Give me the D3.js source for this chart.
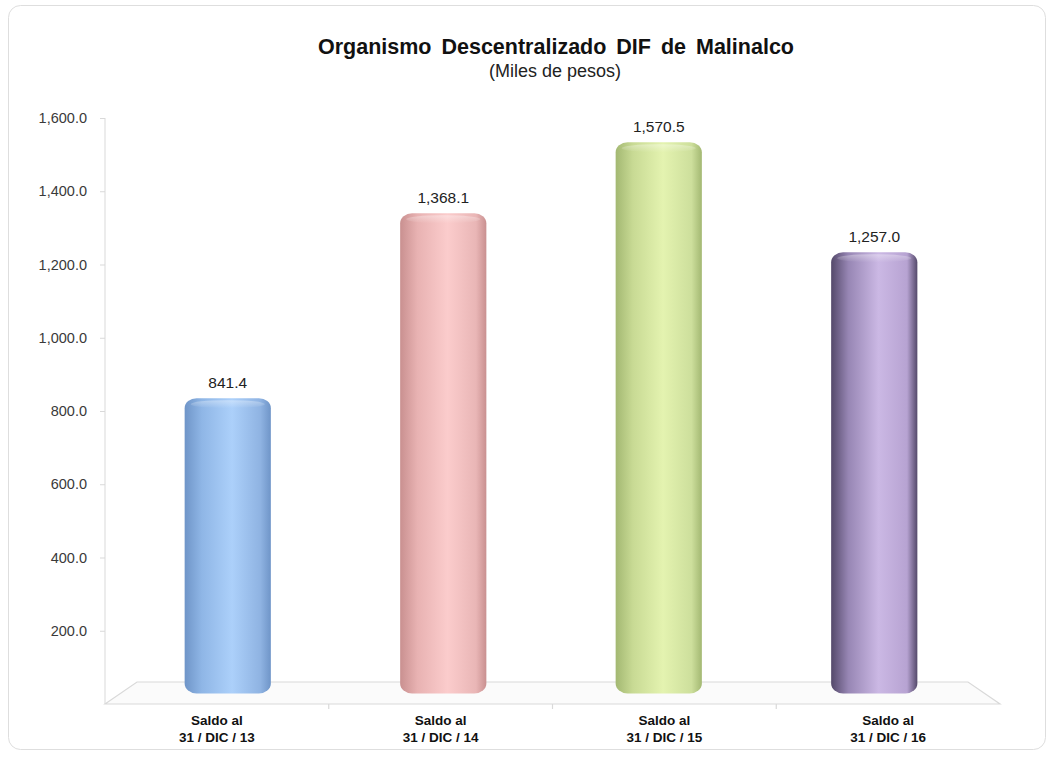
<!DOCTYPE html>
<html><head><meta charset="utf-8">
<script src="https://cdn.jsdelivr.net/npm/d3@7"></script>
<style>body{margin:0;background:#fff}svg{display:block}text{font-family:"Liberation Sans",Arial,sans-serif}</style>
</head><body><svg id="c" width="1052" height="757"></svg>
<script>
const categories = ["Saldo al|31 / DIC / 13","Saldo al|31 / DIC / 14","Saldo al|31 / DIC / 15","Saldo al|31 / DIC / 16"];
const values = [841.4, 1368.1, 1570.5, 1257.0];
const valueLabels = ["841.4","1,368.1","1,570.5","1,257.0"];
const tickValues = [200,400,600,800,1000,1200,1400,1600];
const barColors = [
  ["#6f95c8","#8fb6e6","#acd0fa","#8fb3e2"],
  ["#c99090","#e8b2b2","#fbcccc","#e9b6b6"],
  ["#a3b872","#c8da94","#e4f3b0","#cddf9c"],
  ["#54496a","#9786b4","#cbb8e4","#b7a3d2"]
];

const svg = d3.select("#c");
const defs = svg.append("defs");

// panel
svg.append("rect").attr("x",8.5).attr("y",5.5).attr("width",1037).attr("height",744)
  .attr("rx",12).attr("fill","#fff").attr("stroke","#dedede");

// titles
svg.append("text").attr("x",556).attr("y",54).attr("text-anchor","middle")
  .attr("font-size",21.5).attr("font-weight","bold").attr("fill","#111").attr("word-spacing",4)
  .text("Organismo Descentralizado DIF de Malinalco");
svg.append("text").attr("x",555).attr("y",77).attr("text-anchor","middle")
  .attr("font-size",18).attr("fill","#222").text("(Miles de pesos)");

// scales
const yAxisScale = d3.scaleLinear().domain([0,1600]).range([704,118]);
const yBar = d3.scaleLinear().domain([0,1600]).range([693.5,131.9]);
const xBar = d3.scaleBand().domain(categories).range([120,982]).paddingInner(0.6).paddingOuter(0.3);
const xFront = d3.scaleBand().domain(categories).range([105,1000]);

// floor
const gFloor = svg.append("g").attr("stroke","#d9d9d9").attr("fill","none").attr("stroke-width",1.2);
gFloor.append("path").attr("d","M105,704 L137,682 L968,682 L1000,704 Z").attr("fill","#fbfbfb");
xFront.domain().slice(1).forEach(c=>{
  const x = xFront(c);
  gFloor.append("line").attr("x1",x).attr("x2",x).attr("y1",704).attr("y2",709);
});

// y axis
const yAxis = d3.axisLeft(yAxisScale).tickValues(tickValues).tickSize(5).tickPadding(13)
  .tickFormat(d=>d3.format(",.1f")(d));
const ga = svg.append("g").attr("transform","translate(105,0)").call(yAxis);
ga.select(".domain").attr("stroke","#d9d9d9").attr("d","M0,118V704");
ga.selectAll(".tick line").attr("stroke","#d9d9d9");
ga.selectAll(".tick text").attr("font-size",14.5).attr("fill","#3a3a3a")
  .attr("font-family","'Liberation Sans',Arial,sans-serif");

// gradients
categories.forEach((c,i)=>{
  const g = defs.append("linearGradient").attr("id","g"+i).attr("x1","0").attr("x2","1").attr("y1","0").attr("y2","0");
  const cs = barColors[i];
  [[0,cs[0]],[0.2,cs[1]],[0.55,cs[2]],[0.88,cs[3]],[1,cs[0]]].forEach(s=>
    g.append("stop").attr("offset",s[0]).attr("stop-color",s[1]));
  const v = defs.append("linearGradient").attr("id","v"+i).attr("x1","0").attr("x2","0").attr("y1","0").attr("y2","1");
  v.append("stop").attr("offset",0).attr("stop-color","#fff").attr("stop-opacity",0.35);
  v.append("stop").attr("offset",1).attr("stop-color","#fff").attr("stop-opacity",0);
});

// bars
const bw = xBar.bandwidth();
const bars = svg.append("g");
categories.forEach((c,i)=>{
  const x = xBar(c), top = yBar(values[i]), bot = yBar(0);
  bars.append("rect").attr("x",x).attr("y",top).attr("width",bw).attr("height",bot-top)
    .attr("rx",12).attr("ry",10).attr("fill",`url(#g${i})`);
  bars.append("ellipse").attr("cx",x+bw/2).attr("cy",top+6).attr("rx",bw/2-6).attr("ry",4)
    .attr("fill",`url(#v${i})`);
  bars.append("text").attr("x",x+bw/2).attr("y",top-10).attr("text-anchor","middle")
    .attr("font-size",15.5).attr("fill","#222").text(valueLabels[i]);
});

// x labels
const xl = svg.append("g");
categories.forEach(c=>{
  const parts = c.split("|");
  const cx = xFront(c)+xFront.bandwidth()/2;
  const t = xl.append("text").attr("x",cx).attr("y",725)
    .attr("text-anchor","middle").attr("font-size",13.5).attr("font-weight","bold").attr("fill","#111");
  parts.forEach((p,k)=>t.append("tspan").attr("x",cx).attr("dy",k?17:0).text(p));
});
</script></body></html>
